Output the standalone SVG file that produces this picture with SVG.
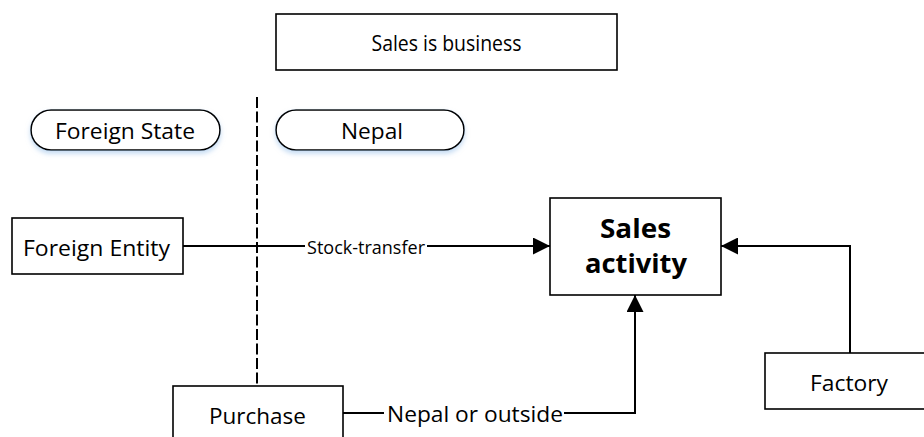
<svg xmlns="http://www.w3.org/2000/svg" width="924" height="437" viewBox="0 0 924 437">
<style>
.box{fill:#fff;stroke:#000;stroke-width:1.6}
.pill{fill:#fff;stroke:#000;stroke-width:1.6;filter:url(#sh)}
.t{font-family:"Open Sans","Liberation Sans",sans-serif;font-size:21px;fill:#000;text-anchor:middle}
.tb{font-family:"Open Sans","Liberation Sans",sans-serif;font-size:27px;font-weight:bold;fill:#000;text-anchor:middle}
.ts{font-family:"Open Sans","Liberation Sans",sans-serif;font-size:17.5px;fill:#000;text-anchor:middle}
.c{fill:none;stroke:#000;stroke-width:2}
.dash{fill:none;stroke:#000;stroke-width:2;stroke-dasharray:11 3.5}
</style>
<defs>
<filter id="sh" x="-10%" y="-20%" width="120%" height="160%">
<feDropShadow dx="0" dy="3" stdDeviation="2.5" flood-color="#9cc3ea" flood-opacity="0.6"/>
</filter>
<marker id="ah" markerUnits="userSpaceOnUse" markerWidth="17" markerHeight="17" viewBox="0 0 17 17" refX="17" refY="8.5" orient="auto">
<path d="M0,0 L17,8.5 L0,17 z" fill="#000"/>
</marker>
</defs>
<rect width="924" height="437" fill="#fff"/>
<g id="connectors">
<line class="dash" x1="257" y1="97" x2="257" y2="386"/>
<path class="c" d="M183,246 H305"/>
<path class="c" d="M427,246 H550" marker-end="url(#ah)"/>
<path class="c" d="M850,353 V246 H721" marker-end="url(#ah)"/>
<path class="c" d="M343,413 H384"/>
<path class="c" d="M564,413 H635 V295" marker-end="url(#ah)"/>
<text class="ts" x="366" y="254" textLength="118" lengthAdjust="spacingAndGlyphs">Stock-transfer</text>
<text class="t" x="475" y="422" textLength="176" lengthAdjust="spacingAndGlyphs">Nepal or outside</text>
</g>
<g id="sales-is-business">
<rect class="box" x="276" y="14" width="341" height="56"/>
<text class="t" x="446.5" y="51" textLength="150" lengthAdjust="spacingAndGlyphs">Sales is business</text>
</g>
<g id="foreign-state">
<rect class="pill" x="31" y="110" width="189" height="40" rx="20"/>
<text class="t" x="125" y="139" textLength="140" lengthAdjust="spacingAndGlyphs">Foreign State</text>
</g>
<g id="nepal">
<rect class="pill" x="276" y="110" width="188" height="40" rx="20"/>
<text class="t" x="372" y="139" textLength="62" lengthAdjust="spacingAndGlyphs">Nepal</text>
</g>
<g id="foreign-entity">
<rect class="box" x="12" y="218" width="171" height="56"/>
<text class="t" x="96.5" y="256" textLength="147" lengthAdjust="spacingAndGlyphs">Foreign Entity</text>
</g>
<g id="sales-activity">
<rect class="box" x="550" y="198" width="171" height="97"/>
<text class="tb" x="635.5" y="238" textLength="71" lengthAdjust="spacingAndGlyphs">Sales</text>
<text class="tb" x="636" y="273" textLength="102" lengthAdjust="spacingAndGlyphs">activity</text>
</g>
<g id="purchase">
<rect class="box" x="173" y="386" width="170" height="60"/>
<text class="t" x="257.5" y="424" textLength="97" lengthAdjust="spacingAndGlyphs">Purchase</text>
</g>
<g id="factory">
<rect class="box" x="765" y="353" width="170" height="56"/>
<text class="t" x="849" y="391" textLength="78" lengthAdjust="spacingAndGlyphs">Factory</text>
</g>
</svg>
